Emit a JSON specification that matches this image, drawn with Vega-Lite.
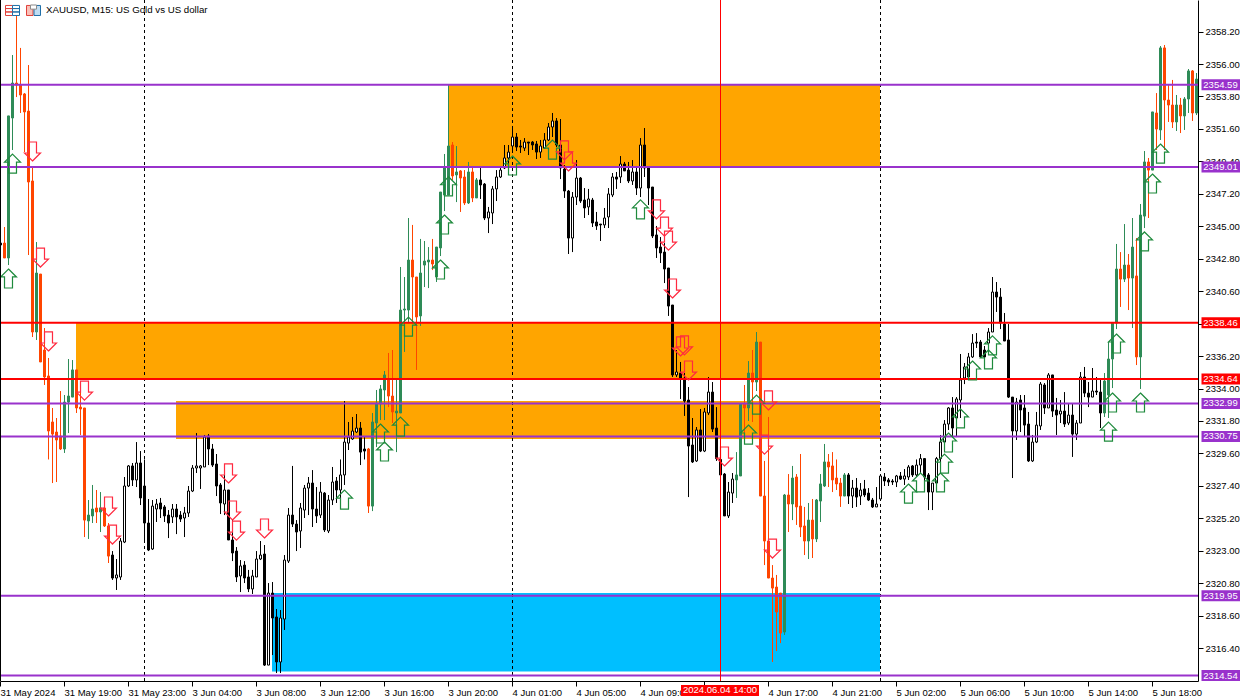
{"$schema":"https://vega.github.io/schema/vega-lite/v6.json","width":1198,"height":681,"autosize":"none","padding":{"left":0,"top":0,"right":54,"bottom":19},"background":"white","config":{"view":{"stroke":null},"scale":{"continuousPadding":0},"axis":{"labelFont":"Liberation Sans","labelFontSize":9.5,"labelColor":"black","tickColor":"black","domainColor":"black","grid":false,"title":null,"labelOverlap":false}},
"resolve":{"scale":{"fill":"independent","stroke":"independent"}},
"datasets":{
"candles":[
{"b":0,"s":"d","o":2343.86,"h":2343.9,"l":2343.7,"c":2343.73},
{"b":1,"s":"r","o":2343.86,"h":2344.95,"l":2342.85,"c":2342.85},
{"b":2,"s":"g","o":2342.85,"h":2352.48,"l":2342.37,"c":2352.48},
{"b":3,"s":"g","o":2352.34,"h":2356.61,"l":2350.17,"c":2354.71},
{"b":4,"s":"r","o":2354.71,"h":2359.32,"l":2353.76,"c":2354.58},
{"b":5,"s":"r","o":2354.58,"h":2357.09,"l":2352.68,"c":2353.9},
{"b":6,"s":"r","o":2353.97,"h":2354.03,"l":2350.03,"c":2352.75},
{"b":7,"s":"r","o":2352.81,"h":2355.93,"l":2343.05,"c":2348},
{"b":8,"s":"r","o":2348.07,"h":2348.95,"l":2337.49,"c":2337.83},
{"b":9,"s":"g","o":2337.83,"h":2343.93,"l":2337.29,"c":2341.83},
{"b":10,"s":"r","o":2341.76,"h":2341.76,"l":2335.8,"c":2335.8},
{"b":11,"s":"r","o":2336.61,"h":2338.1,"l":2334.24,"c":2334.78},
{"b":12,"s":"r","o":2334.85,"h":2336.07,"l":2329.19,"c":2331.12},
{"b":13,"s":"r","o":2331.73,"h":2332.68,"l":2327.59,"c":2330.91},
{"b":14,"s":"r","o":2331.05,"h":2332,"l":2327.66,"c":2330.51},
{"b":15,"s":"r","o":2330.78,"h":2333.83,"l":2329.83,"c":2329.9},
{"b":16,"s":"g","o":2329.9,"h":2333.56,"l":2329.63,"c":2333.08},
{"b":17,"s":"g","o":2333.08,"h":2336,"l":2330.98,"c":2333.49},
{"b":18,"s":"g","o":2333.42,"h":2335.93,"l":2333.42,"c":2335.26},
{"b":19,"s":"r","o":2335.26,"h":2335.26,"l":2332.34,"c":2332.68},
{"b":20,"s":"r","o":2332.74,"h":2333.9,"l":2330.85,"c":2332.61},
{"b":21,"s":"r","o":2332.68,"h":2332.68,"l":2323.93,"c":2325.08},
{"b":22,"s":"g","o":2325.02,"h":2326.44,"l":2323.8,"c":2325.42},
{"b":23,"s":"g","o":2325.36,"h":2327.46,"l":2324.88,"c":2325.83},
{"b":24,"s":"r","o":2325.9,"h":2327.12,"l":2324.88,"c":2325.63},
{"b":25,"s":"g","o":2325.63,"h":2326.98,"l":2324.27,"c":2325.9},
{"b":26,"s":"r","o":2325.9,"h":2326.64,"l":2324.61,"c":2324.68},
{"b":27,"s":"r","o":2324.68,"h":2324.88,"l":2322.17,"c":2322.64},
{"b":28,"s":"d","o":2322.71,"h":2322.98,"l":2321.02,"c":2321.15},
{"b":29,"s":"u","o":2321.15,"h":2322.44,"l":2320.34,"c":2321.36},
{"b":30,"s":"u","o":2321.22,"h":2323.86,"l":2321.02,"c":2323.66},
{"b":31,"s":"u","o":2323.59,"h":2328,"l":2323.52,"c":2327.39},
{"b":32,"s":"u","o":2327.39,"h":2328.81,"l":2327.32,"c":2328.75},
{"b":33,"s":"d","o":2328.75,"h":2328.95,"l":2327.39,"c":2327.8},
{"b":34,"s":"u","o":2327.8,"h":2330.37,"l":2327.32,"c":2328.95},
{"b":35,"s":"d","o":2328.95,"h":2329.76,"l":2326.1,"c":2326.58},
{"b":36,"s":"d","o":2327.39,"h":2329.19,"l":2323.59,"c":2324.88},
{"b":37,"s":"d","o":2324.88,"h":2326.51,"l":2322.98,"c":2323.05},
{"b":38,"s":"u","o":2323.12,"h":2326.44,"l":2323.05,"c":2326.03},
{"b":39,"s":"u","o":2325.83,"h":2326.51,"l":2324.95,"c":2326.17},
{"b":40,"s":"d","o":2326.24,"h":2326.58,"l":2325.22,"c":2325.83},
{"b":41,"s":"d","o":2325.97,"h":2326.1,"l":2324.95,"c":2325.36},
{"b":42,"s":"d","o":2325.42,"h":2325.76,"l":2323.86,"c":2324.88},
{"b":43,"s":"u","o":2325.29,"h":2326.17,"l":2324.88,"c":2325.83},
{"b":44,"s":"d","o":2325.83,"h":2326.17,"l":2324.13,"c":2325.29},
{"b":45,"s":"d","o":2325.42,"h":2325.69,"l":2324.95,"c":2325.15},
{"b":46,"s":"u","o":2325.22,"h":2325.97,"l":2323.93,"c":2325.56},
{"b":47,"s":"u","o":2325.56,"h":2327.39,"l":2325.29,"c":2327.05},
{"b":48,"s":"u","o":2327.05,"h":2328.81,"l":2326.98,"c":2328.61},
{"b":49,"s":"u","o":2328.61,"h":2330.98,"l":2328.27,"c":2328.75},
{"b":50,"s":"u","o":2328.61,"h":2328.81,"l":2327.19,"c":2328.75},
{"b":51,"s":"u","o":2328.68,"h":2330.85,"l":2328.68,"c":2330.71},
{"b":52,"s":"d","o":2330.78,"h":2330.91,"l":2328.81,"c":2329.9},
{"b":53,"s":"d","o":2329.9,"h":2330.24,"l":2328.68,"c":2328.81},
{"b":54,"s":"d","o":2328.88,"h":2329.56,"l":2326.71,"c":2327.39},
{"b":55,"s":"d","o":2327.46,"h":2327.59,"l":2325.49,"c":2326.24},
{"b":56,"s":"u","o":2326.17,"h":2328.27,"l":2325.42,"c":2327.12},
{"b":57,"s":"d","o":2327.12,"h":2327.12,"l":2323.73,"c":2323.73},
{"b":58,"s":"d","o":2323.73,"h":2325.08,"l":2322.3,"c":2322.85},
{"b":59,"s":"d","o":2322.98,"h":2323.25,"l":2320.88,"c":2321.22},
{"b":60,"s":"u","o":2321.29,"h":2322.37,"l":2320.2,"c":2321.97},
{"b":61,"s":"d","o":2322.03,"h":2322.3,"l":2320.81,"c":2321.15},
{"b":62,"s":"d","o":2321.22,"h":2321.7,"l":2320.2,"c":2320.41},
{"b":63,"s":"u","o":2320.41,"h":2321.7,"l":2320.07,"c":2321.29},
{"b":64,"s":"u","o":2321.22,"h":2322.98,"l":2321.22,"c":2322.44},
{"b":65,"s":"u","o":2322.44,"h":2323.66,"l":2322.37,"c":2322.71},
{"b":66,"s":"d","o":2322.78,"h":2323.39,"l":2315.19,"c":2315.25},
{"b":67,"s":"u","o":2315.25,"h":2320.81,"l":2315.25,"c":2320.13},
{"b":68,"s":"d","o":2320.13,"h":2320.88,"l":2315.93,"c":2318.44},
{"b":69,"s":"d","o":2318.51,"h":2319.05,"l":2314.71,"c":2315.46},
{"b":70,"s":"u","o":2315.46,"h":2318.98,"l":2314.71,"c":2318.44},
{"b":71,"s":"u","o":2318.37,"h":2322.71,"l":2317.63,"c":2322.37},
{"b":72,"s":"u","o":2322.3,"h":2325.9,"l":2322.17,"c":2325.42},
{"b":73,"s":"d","o":2325.42,"h":2328.75,"l":2324.61,"c":2324.81},
{"b":74,"s":"d","o":2324.81,"h":2325.08,"l":2322.98,"c":2324.27},
{"b":75,"s":"u","o":2324.34,"h":2326.24,"l":2323.19,"c":2325.9},
{"b":76,"s":"u","o":2325.76,"h":2327.46,"l":2325.22,"c":2327.25},
{"b":77,"s":"u","o":2327.25,"h":2328,"l":2325.42,"c":2327.59},
{"b":78,"s":"d","o":2327.59,"h":2328.47,"l":2324.61,"c":2325.83},
{"b":79,"s":"d","o":2325.83,"h":2327.32,"l":2324.88,"c":2325.36},
{"b":80,"s":"u","o":2325.42,"h":2327.66,"l":2325.22,"c":2326.98},
{"b":81,"s":"d","o":2326.91,"h":2326.98,"l":2324.27,"c":2324.41},
{"b":82,"s":"u","o":2324.34,"h":2326.78,"l":2324.2,"c":2326.44},
{"b":83,"s":"u","o":2326.44,"h":2328.68,"l":2326.1,"c":2327.66},
{"b":84,"s":"d","o":2327.73,"h":2328,"l":2326.24,"c":2327.12},
{"b":85,"s":"u","o":2327.12,"h":2329.19,"l":2326.1,"c":2328.14},
{"b":86,"s":"u","o":2328.14,"h":2333.15,"l":2327.46,"c":2330.37},
{"b":87,"s":"u","o":2330.3,"h":2331.73,"l":2329.83,"c":2330.71},
{"b":88,"s":"u","o":2330.58,"h":2332.07,"l":2330.51,"c":2331.12},
{"b":89,"s":"u","o":2331.05,"h":2332.27,"l":2330.98,"c":2331.32},
{"b":90,"s":"d","o":2331.32,"h":2331.73,"l":2328.81,"c":2329.69},
{"b":91,"s":"d","o":2329.9,"h":2330.71,"l":2329.19,"c":2329.76},
{"b":92,"s":"r","o":2329.9,"h":2329.97,"l":2325.56,"c":2326.03},
{"b":93,"s":"g","o":2326.03,"h":2332.34,"l":2325.69,"c":2331.73},
{"b":94,"s":"g","o":2331.66,"h":2333.9,"l":2330.03,"c":2333.01},
{"b":95,"s":"g","o":2332.95,"h":2334.24,"l":2331.86,"c":2333.97},
{"b":96,"s":"g","o":2333.9,"h":2335.19,"l":2331.86,"c":2334.92},
{"b":97,"s":"r","o":2334.58,"h":2336.41,"l":2332.74,"c":2333.49},
{"b":98,"s":"r","o":2333.49,"h":2336.61,"l":2331.66,"c":2332.41},
{"b":99,"s":"g","o":2332.34,"h":2334.71,"l":2329.69,"c":2332.47},
{"b":100,"s":"g","o":2332.34,"h":2342.24,"l":2332.34,"c":2339.32},
{"b":101,"s":"g","o":2339.32,"h":2341.56,"l":2336.48,"c":2339.39},
{"b":102,"s":"g","o":2339.32,"h":2345.56,"l":2338.44,"c":2342.71},
{"b":103,"s":"r","o":2342.71,"h":2345.09,"l":2338.44,"c":2341.56},
{"b":104,"s":"r","o":2341.56,"h":2341.56,"l":2335.26,"c":2338.85},
{"b":105,"s":"g","o":2338.92,"h":2344.14,"l":2338.24,"c":2341.83},
{"b":106,"s":"g","o":2342.37,"h":2344,"l":2340.88,"c":2342.64},
{"b":107,"s":"g","o":2342.58,"h":2343.59,"l":2340.81,"c":2342.71},
{"b":108,"s":"r","o":2342.71,"h":2344.14,"l":2342.03,"c":2342.44},
{"b":109,"s":"g","o":2341.56,"h":2343.59,"l":2341.22,"c":2343.59},
{"b":110,"s":"g","o":2343.53,"h":2347.32,"l":2342.98,"c":2347.32},
{"b":111,"s":"g","o":2347.12,"h":2349.9,"l":2346.03,"c":2349.02},
{"b":112,"s":"g","o":2347.12,"h":2354.58,"l":2348.14,"c":2350.44},
{"b":113,"s":"r","o":2350.51,"h":2350.71,"l":2348.14,"c":2348.41},
{"b":114,"s":"g","o":2348.48,"h":2350.44,"l":2346.64,"c":2348.68},
{"b":115,"s":"r","o":2348.75,"h":2348.81,"l":2345.97,"c":2348.27},
{"b":116,"s":"r","o":2348.34,"h":2348.81,"l":2346.44,"c":2346.58},
{"b":117,"s":"g","o":2346.58,"h":2349.36,"l":2346.51,"c":2348.68},
{"b":118,"s":"r","o":2348.68,"h":2348.95,"l":2346.64,"c":2346.92},
{"b":119,"s":"g","o":2346.92,"h":2348.27,"l":2346.92,"c":2348.14},
{"b":120,"s":"d","o":2348.14,"h":2348.95,"l":2346.85,"c":2347.8},
{"b":121,"s":"d","o":2347.86,"h":2347.93,"l":2345.42,"c":2345.56},
{"b":122,"s":"u","o":2345.56,"h":2346.31,"l":2344.54,"c":2345.97},
{"b":123,"s":"u","o":2345.9,"h":2347.73,"l":2345.15,"c":2347.53},
{"b":124,"s":"u","o":2347.53,"h":2348.81,"l":2346.71,"c":2348.34},
{"b":125,"s":"u","o":2348.34,"h":2348.95,"l":2348.27,"c":2348.81},
{"b":126,"s":"u","o":2348.95,"h":2350.51,"l":2348.88,"c":2349.63},
{"b":127,"s":"u","o":2349.63,"h":2350.51,"l":2349.02,"c":2350.03},
{"b":128,"s":"u","o":2350.44,"h":2351.8,"l":2350.17,"c":2351.05},
{"b":129,"s":"d","o":2351.05,"h":2351.32,"l":2350.1,"c":2350.37},
{"b":130,"s":"d","o":2350.44,"h":2350.85,"l":2349.97,"c":2350.37},
{"b":131,"s":"u","o":2350.3,"h":2350.98,"l":2350.1,"c":2350.71},
{"b":132,"s":"d","o":2350.71,"h":2350.71,"l":2349.83,"c":2350.64},
{"b":133,"s":"d","o":2350.71,"h":2350.78,"l":2350.17,"c":2350.51},
{"b":134,"s":"d","o":2350.58,"h":2350.78,"l":2349.56,"c":2350.03},
{"b":135,"s":"u","o":2350.03,"h":2350.85,"l":2349.63,"c":2350.44},
{"b":136,"s":"u","o":2350.3,"h":2351.32,"l":2350.3,"c":2350.85},
{"b":137,"s":"u","o":2350.85,"h":2352,"l":2350.78,"c":2351.73},
{"b":138,"s":"u","o":2351.73,"h":2352.68,"l":2351.05,"c":2352.14},
{"b":139,"s":"d","o":2352.14,"h":2352.34,"l":2350.37,"c":2350.51},
{"b":140,"s":"d","o":2350.51,"h":2352.27,"l":2348.2,"c":2348.95},
{"b":141,"s":"d","o":2348.88,"h":2349.15,"l":2346.92,"c":2347.39},
{"b":142,"s":"d","o":2347.39,"h":2347.46,"l":2343.12,"c":2344.2},
{"b":143,"s":"u","o":2344.2,"h":2347.32,"l":2343.25,"c":2346.98},
{"b":144,"s":"u","o":2346.98,"h":2349.49,"l":2346.44,"c":2348.27},
{"b":145,"s":"d","o":2348.27,"h":2348.34,"l":2346.58,"c":2346.71},
{"b":146,"s":"d","o":2346.78,"h":2347.59,"l":2345.56,"c":2346.24},
{"b":147,"s":"u","o":2346.31,"h":2347.53,"l":2345.76,"c":2346.85},
{"b":148,"s":"d","o":2346.78,"h":2346.92,"l":2344.95,"c":2345.22},
{"b":149,"s":"d","o":2345.29,"h":2345.97,"l":2344.75,"c":2345.02},
{"b":150,"s":"d","o":2345.15,"h":2345.15,"l":2344,"c":2345.09},
{"b":151,"s":"u","o":2345.09,"h":2346.24,"l":2344.88,"c":2345.56},
{"b":152,"s":"u","o":2345.63,"h":2347.59,"l":2344.88,"c":2347.19},
{"b":153,"s":"u","o":2347.12,"h":2348.61,"l":2346.98,"c":2348.34},
{"b":154,"s":"d","o":2348.34,"h":2348.68,"l":2347.53,"c":2348.2},
{"b":155,"s":"u","o":2348.34,"h":2349.76,"l":2347.93,"c":2349.22},
{"b":156,"s":"d","o":2349.22,"h":2349.36,"l":2348.75,"c":2348.75},
{"b":157,"s":"d","o":2348.81,"h":2349.36,"l":2347.93,"c":2348.07},
{"b":158,"s":"u","o":2348.07,"h":2349.49,"l":2347.8,"c":2348.68},
{"b":159,"s":"d","o":2348.68,"h":2349.02,"l":2347.12,"c":2347.59},
{"b":160,"s":"u","o":2347.59,"h":2350.98,"l":2346.98,"c":2350.51},
{"b":161,"s":"d","o":2350.51,"h":2351.66,"l":2348.34,"c":2348.95},
{"b":162,"s":"d","o":2348.95,"h":2348.95,"l":2346.44,"c":2347.59},
{"b":163,"s":"d","o":2347.66,"h":2347.66,"l":2344.2,"c":2344.34},
{"b":164,"s":"d","o":2344.41,"h":2345.02,"l":2342.85,"c":2343.53},
{"b":165,"s":"d","o":2343.59,"h":2344.27,"l":2342.51,"c":2343.19},
{"b":166,"s":"d","o":2343.25,"h":2343.86,"l":2341.15,"c":2342.1},
{"b":167,"s":"d","o":2342.17,"h":2342.17,"l":2338.92,"c":2339.59},
{"b":168,"s":"d","o":2339.66,"h":2339.66,"l":2334.78,"c":2334.92},
{"b":169,"s":"u","o":2334.92,"h":2336.61,"l":2334.78,"c":2335.12},
{"b":170,"s":"d","o":2335.05,"h":2335.8,"l":2333.29,"c":2334.71},
{"b":171,"s":"d","o":2334.71,"h":2335.05,"l":2332.14,"c":2333.15},
{"b":172,"s":"d","o":2333.22,"h":2334.1,"l":2326.64,"c":2330.1},
{"b":173,"s":"d","o":2330.17,"h":2332,"l":2328.95,"c":2329.02},
{"b":174,"s":"u","o":2329.09,"h":2331.39,"l":2329.02,"c":2331.19},
{"b":175,"s":"d","o":2331.19,"h":2332.61,"l":2329.69,"c":2329.76},
{"b":176,"s":"u","o":2329.76,"h":2332.68,"l":2329.69,"c":2332.41},
{"b":177,"s":"u","o":2332.34,"h":2334.78,"l":2332.2,"c":2333.76},
{"b":178,"s":"d","o":2333.76,"h":2334.44,"l":2331.05,"c":2331.25},
{"b":179,"s":"d","o":2331.32,"h":2332.74,"l":2329.09,"c":2329.25},
{"b":180,"s":"d","o":2329.19,"h":2329.49,"l":2328.14,"c":2328.14},
{"b":181,"s":"d","o":2328.2,"h":2328.27,"l":2325.36,"c":2325.36},
{"b":182,"s":"u","o":2325.36,"h":2327.66,"l":2325.22,"c":2326.98},
{"b":183,"s":"u","o":2326.91,"h":2328.27,"l":2326.24,"c":2327.86},
{"b":184,"s":"g","o":2327.8,"h":2329.69,"l":2326.58,"c":2328.14},
{"b":185,"s":"g","o":2328.07,"h":2332.95,"l":2328.07,"c":2332.95},
{"b":186,"s":"r","o":2332.95,"h":2334.24,"l":2330.51,"c":2332.68},
{"b":187,"s":"g","o":2332.68,"h":2335.86,"l":2331.8,"c":2335.05},
{"b":188,"s":"r","o":2335.05,"h":2336.61,"l":2331.73,"c":2334.44},
{"b":189,"s":"g","o":2334.44,"h":2337.83,"l":2333.83,"c":2337.15},
{"b":190,"s":"r","o":2337.15,"h":2337.15,"l":2326.71,"c":2326.71},
{"b":191,"s":"r","o":2326.71,"h":2329.09,"l":2322.03,"c":2323.66},
{"b":192,"s":"r","o":2323.66,"h":2332.07,"l":2321.15,"c":2321.15},
{"b":193,"s":"r","o":2321.15,"h":2322.03,"l":2315.46,"c":2320.47},
{"b":194,"s":"r","o":2320.54,"h":2321.36,"l":2316.2,"c":2318.85},
{"b":195,"s":"r","o":2320.13,"h":2320.13,"l":2316.74,"c":2317.42},
{"b":196,"s":"g","o":2317.49,"h":2326.85,"l":2317.29,"c":2326.78},
{"b":197,"s":"r","o":2326.78,"h":2328.2,"l":2324.27,"c":2326.17},
{"b":198,"s":"g","o":2326.17,"h":2328.75,"l":2325.08,"c":2327.93},
{"b":199,"s":"r","o":2328,"h":2328.2,"l":2324.75,"c":2325.97},
{"b":200,"s":"r","o":2326.03,"h":2329.56,"l":2323.93,"c":2324.61},
{"b":201,"s":"r","o":2324.68,"h":2325.97,"l":2322.71,"c":2323.66},
{"b":202,"s":"g","o":2323.66,"h":2326.24,"l":2322.44,"c":2325.08},
{"b":203,"s":"r","o":2325.08,"h":2326.51,"l":2322.51,"c":2323.8},
{"b":204,"s":"g","o":2323.8,"h":2326.51,"l":2323.59,"c":2326.44},
{"b":205,"s":"g","o":2326.37,"h":2328.2,"l":2324.95,"c":2327.53},
{"b":206,"s":"g","o":2327.39,"h":2330.24,"l":2327.32,"c":2329.02},
{"b":207,"s":"r","o":2329.02,"h":2329.56,"l":2327.32,"c":2328.68},
{"b":208,"s":"r","o":2328.75,"h":2329.69,"l":2326.98,"c":2327.8},
{"b":209,"s":"r","o":2327.93,"h":2329.19,"l":2327.12,"c":2327.53},
{"b":210,"s":"r","o":2327.59,"h":2327.93,"l":2325.97,"c":2326.71},
{"b":211,"s":"g","o":2326.71,"h":2328.27,"l":2326.71,"c":2328.14},
{"b":212,"s":"d","o":2328.14,"h":2328.27,"l":2326.17,"c":2326.71},
{"b":213,"s":"u","o":2326.71,"h":2327.8,"l":2325.9,"c":2327.25},
{"b":214,"s":"d","o":2327.25,"h":2327.93,"l":2325.97,"c":2326.64},
{"b":215,"s":"u","o":2326.71,"h":2327.59,"l":2326.1,"c":2327.12},
{"b":216,"s":"d","o":2327.19,"h":2327.8,"l":2326.64,"c":2326.78},
{"b":217,"s":"d","o":2326.91,"h":2327.25,"l":2326.37,"c":2326.44},
{"b":218,"s":"d","o":2326.44,"h":2326.58,"l":2325.9,"c":2325.97},
{"b":219,"s":"u","o":2325.97,"h":2327.32,"l":2325.97,"c":2326.17},
{"b":220,"s":"u","o":2326.51,"h":2328.14,"l":2326.44,"c":2328.07},
{"b":221,"s":"d","o":2328,"h":2328.27,"l":2327.39,"c":2327.73},
{"b":222,"s":"d","o":2327.8,"h":2327.93,"l":2327.39,"c":2327.66},
{"b":223,"s":"d","o":2327.73,"h":2327.86,"l":2327.46,"c":2327.66},
{"b":224,"s":"u","o":2327.66,"h":2328.14,"l":2327.32,"c":2328.07},
{"b":225,"s":"d","o":2328.07,"h":2328.34,"l":2327.8,"c":2327.86},
{"b":226,"s":"u","o":2327.86,"h":2328.54,"l":2327.46,"c":2328.07},
{"b":227,"s":"u","o":2328,"h":2328.81,"l":2327.8,"c":2328.68},
{"b":228,"s":"d","o":2328.75,"h":2328.81,"l":2328,"c":2328.14},
{"b":229,"s":"u","o":2328.14,"h":2329.19,"l":2328,"c":2328.81},
{"b":230,"s":"u","o":2328.81,"h":2329.56,"l":2328.27,"c":2329.25},
{"b":231,"s":"d","o":2329.25,"h":2329.25,"l":2327.59,"c":2328},
{"b":232,"s":"d","o":2328.14,"h":2328.27,"l":2325.76,"c":2326.98},
{"b":233,"s":"u","o":2326.98,"h":2327.59,"l":2325.76,"c":2327.59},
{"b":234,"s":"u","o":2327.59,"h":2329.36,"l":2326.98,"c":2329.25},
{"b":235,"s":"u","o":2329.25,"h":2330.85,"l":2328.95,"c":2330.37},
{"b":236,"s":"u","o":2330.37,"h":2331.86,"l":2330.3,"c":2331.59},
{"b":237,"s":"u","o":2331.59,"h":2332.74,"l":2331.19,"c":2332.68},
{"b":238,"s":"d","o":2332.68,"h":2333.42,"l":2330.71,"c":2331.32},
{"b":239,"s":"u","o":2332,"h":2333.42,"l":2330.71,"c":2333.29},
{"b":240,"s":"u","o":2333.22,"h":2336.34,"l":2332,"c":2334.58},
{"b":241,"s":"u","o":2334.71,"h":2335.73,"l":2334.3,"c":2335.46},
{"b":242,"s":"u","o":2334.78,"h":2336.41,"l":2334.58,"c":2336.14},
{"b":243,"s":"u","o":2336.14,"h":2337.69,"l":2336.07,"c":2337.08},
{"b":244,"s":"d","o":2337.15,"h":2337.76,"l":2336.75,"c":2337.08},
{"b":245,"s":"d","o":2337.15,"h":2337.29,"l":2336.07,"c":2336.14},
{"b":246,"s":"d","o":2336.61,"h":2336.88,"l":2335.66,"c":2336.14},
{"b":247,"s":"u","o":2337.08,"h":2338.1,"l":2336.27,"c":2337.83},
{"b":248,"s":"u","o":2337.83,"h":2341.56,"l":2337.83,"c":2340.54},
{"b":249,"s":"d","o":2340.54,"h":2341.22,"l":2339.19,"c":2340.2},
{"b":250,"s":"d","o":2340.2,"h":2340.81,"l":2338.03,"c":2338.44},
{"b":251,"s":"d","o":2338.37,"h":2339.12,"l":2337.22,"c":2337.22},
{"b":252,"s":"d","o":2337.29,"h":2338.37,"l":2333.36,"c":2333.42},
{"b":253,"s":"d","o":2333.42,"h":2333.42,"l":2327.93,"c":2331.12},
{"b":254,"s":"u","o":2331.12,"h":2333.36,"l":2330.51,"c":2333.08},
{"b":255,"s":"d","o":2333.22,"h":2333.56,"l":2331.05,"c":2332.54},
{"b":256,"s":"d","o":2332.68,"h":2333.56,"l":2330.71,"c":2331.52},
{"b":257,"s":"d","o":2331.59,"h":2332.41,"l":2329.02,"c":2329.09},
{"b":258,"s":"u","o":2329.09,"h":2330.85,"l":2329.02,"c":2330.37},
{"b":259,"s":"u","o":2330.37,"h":2332.41,"l":2330.3,"c":2331.52},
{"b":260,"s":"u","o":2331.46,"h":2334.44,"l":2331.19,"c":2334.3},
{"b":261,"s":"d","o":2334.24,"h":2334.37,"l":2332.27,"c":2332.68},
{"b":262,"s":"u","o":2332.68,"h":2335.05,"l":2332.68,"c":2334.92},
{"b":263,"s":"d","o":2334.92,"h":2334.92,"l":2332.07,"c":2332.47},
{"b":264,"s":"d","o":2332.54,"h":2333.36,"l":2330.85,"c":2332.2},
{"b":265,"s":"u","o":2332.27,"h":2333.22,"l":2331.66,"c":2332.47},
{"b":266,"s":"d","o":2332.47,"h":2333.76,"l":2331.39,"c":2331.59},
{"b":267,"s":"u","o":2331.66,"h":2333.01,"l":2331.52,"c":2332.2},
{"b":268,"s":"d","o":2332.2,"h":2332.95,"l":2329.36,"c":2330.91},
{"b":269,"s":"u","o":2330.91,"h":2331.86,"l":2330.51,"c":2331.66},
{"b":270,"s":"u","o":2331.66,"h":2335.12,"l":2331.66,"c":2334.78},
{"b":271,"s":"d","o":2334.78,"h":2335.46,"l":2333.42,"c":2333.69},
{"b":272,"s":"d","o":2333.69,"h":2334.44,"l":2332.74,"c":2333.42},
{"b":273,"s":"u","o":2333.42,"h":2335.39,"l":2333.42,"c":2333.83},
{"b":274,"s":"d","o":2333.83,"h":2334.78,"l":2333.56,"c":2333.76},
{"b":275,"s":"d","o":2333.76,"h":2334.58,"l":2331.32,"c":2332.34},
{"b":276,"s":"g","o":2332.34,"h":2335.05,"l":2332.07,"c":2334.51},
{"b":277,"s":"g","o":2333.56,"h":2337.15,"l":2332,"c":2336},
{"b":278,"s":"g","o":2336,"h":2338.44,"l":2334.03,"c":2338.44},
{"b":279,"s":"g","o":2338.44,"h":2343.8,"l":2338.03,"c":2342.1},
{"b":280,"s":"r","o":2342.1,"h":2343.25,"l":2339.53,"c":2341.42},
{"b":281,"s":"g","o":2341.42,"h":2345.15,"l":2341.22,"c":2342.37},
{"b":282,"s":"r","o":2342.37,"h":2343.12,"l":2339.32,"c":2341.49},
{"b":283,"s":"g","o":2341.49,"h":2345.56,"l":2338.1,"c":2343.59},
{"b":284,"s":"r","o":2341.63,"h":2344.2,"l":2335.59,"c":2336.14},
{"b":285,"s":"g","o":2336.14,"h":2346.51,"l":2333.97,"c":2345.76},
{"b":286,"s":"g","o":2345.69,"h":2350.1,"l":2344.88,"c":2349.36},
{"b":287,"s":"r","o":2349.36,"h":2349.63,"l":2345.56,"c":2348.81},
{"b":288,"s":"g","o":2348.81,"h":2352.75,"l":2348.81,"c":2352.75},
{"b":289,"s":"r","o":2352.68,"h":2354.03,"l":2350.17,"c":2351.59},
{"b":290,"s":"g","o":2351.53,"h":2357.22,"l":2350.85,"c":2357.09},
{"b":291,"s":"r","o":2357.09,"h":2357.29,"l":2350.17,"c":2353.56},
{"b":292,"s":"r","o":2353.56,"h":2354.58,"l":2352.07,"c":2353.22},
{"b":293,"s":"r","o":2353.22,"h":2354.92,"l":2351.66,"c":2352.07},
{"b":294,"s":"g","o":2352.07,"h":2353.9,"l":2351.46,"c":2353.22},
{"b":295,"s":"r","o":2353.22,"h":2353.7,"l":2351.32,"c":2352.48},
{"b":296,"s":"g","o":2352.48,"h":2353.76,"l":2351.53,"c":2353.63},
{"b":297,"s":"g","o":2353.63,"h":2355.66,"l":2352.68,"c":2355.53},
{"b":298,"s":"r","o":2355.53,"h":2355.59,"l":2352.14,"c":2352.68},
{"b":299,"s":"g","o":2352.68,"h":2355.39,"l":2352.54,"c":2354.98}
],
"zones":[
{"k1":111.875,"k2":219.875,"p1":2354.58,"p2":2349.09,"t":"sell"},
{"k1":18.875,"k2":219.875,"p1":2338.51,"p2":2334.64,"t":"sell"},
{"k1":43.875,"k2":219.875,"p1":2333.15,"p2":2330.58,"t":"sell"},
{"k1":67.875,"k2":219.875,"p1":2320.13,"p2":2314.81,"t":"buy"}
],
"levels":[
{"p":2354.59,"t":"a","x":"2354.59"},
{"p":2349.01,"t":"a","x":"2349.01"},
{"p":2338.46,"t":"b","x":"2338.46"},
{"p":2334.64,"t":"b","x":"2334.64"},
{"p":2332.99,"t":"a","x":"2332.99"},
{"p":2330.75,"t":"a","x":"2330.75"},
{"p":2319.95,"t":"a","x":"2319.95"},
{"p":2314.54,"t":"a","x":"2314.54"}
],
"up":[
{"b":2,"p":2341.46},{"b":3,"p":2349.25},{"b":86,"p":2326.47},{"b":95,"p":2330.95},{"b":96,"p":2329.73},{"b":100,"p":2331.42},{"b":102,"p":2338.2},{"b":110,"p":2342.07},{"b":111,"p":2345.12},{"b":112,"p":2347.71},{"b":128,"p":2349.12},{"b":138,"p":2350.2},{"b":160,"p":2346.14},{"b":187,"p":2330.88},{"b":189,"p":2332.91},{"b":227,"p":2326.88},{"b":230,"p":2327.63},{"b":235,"p":2327.63},{"b":236,"p":2328.91},{"b":237,"p":2330.34},{"b":240,"p":2331.97},{"b":243,"p":2335.22},{"b":247,"p":2335.97},{"b":248,"p":2336.92},{"b":277,"p":2331.08},{"b":278,"p":2333.05},{"b":279,"p":2337.05},{"b":285,"p":2333.05},{"b":286,"p":2343.97},{"b":288,"p":2347.9},{"b":290,"p":2349.93}
],
"down":[
{"b":8,"p":2350.07},{"b":10,"p":2342.88},{"b":12,"p":2337.19},{"b":21,"p":2333.86},{"b":27,"p":2326},{"b":28,"p":2324.1},{"b":57,"p":2328.24},{"b":58,"p":2325.73},{"b":59,"p":2324.37},{"b":66,"p":2324.51},{"b":141,"p":2350.14},{"b":142,"p":2349.39},{"b":164,"p":2346.14},{"b":166,"p":2344.98},{"b":167,"p":2344.03},{"b":168,"p":2340.78},{"b":170,"p":2336.85},{"b":171,"p":2336.92},{"b":172,"p":2335.22},{"b":181,"p":2329.39},{"b":191,"p":2330.2},{"b":192,"p":2333.19},{"b":193,"p":2323.15}
],
"seps":[{"b":36},{"b":128},{"b":220}],
"icons":[
{"k1":1.25,"k2":3,"p1":2359.97,"p2":2359.29,"t":"rl"},
{"k1":3,"k2":4.75,"p1":2359.97,"p2":2359.29,"t":"bl"},
{"k1":1.25,"k2":3,"p1":2359.76,"p2":2359.76,"t":"rl"},
{"k1":1.25,"k2":3,"p1":2359.53,"p2":2359.53,"t":"rl"},
{"k1":3,"k2":4.75,"p1":2359.76,"p2":2359.76,"t":"bl"},
{"k1":3,"k2":4.75,"p1":2359.53,"p2":2359.53,"t":"bl"},
{"k1":6.5,"k2":8.125,"p1":2359.97,"p2":2359.29,"t":"rf"},
{"k1":8.375,"k2":10,"p1":2359.97,"p2":2359.29,"t":"bf"},
{"k1":7.5,"k2":9,"p1":2360.0,"p2":2359.72,"t":"gr"}
]
},
"layer":[
{"data":{"name":"zones"},"mark":{"type":"rect"},"encoding":{
"x":{"field":"k1","type":"quantitative","scale":{"domain":[-0.125,299.375],"nice":false,"zero":false,"padding":0},"axis":{"orient":"bottom","tickCount":40,"values":[-0.125,15.875,31.875,47.875,63.875,79.875,95.875,111.875,127.875,143.875,159.875,175.875,191.875,207.875,223.875,239.875,255.875,271.875,287.875],"labelExpr":"['31 May 2024','31 May 19:00','31 May 23:00','3 Jun 04:00','3 Jun 08:00','3 Jun 12:00','3 Jun 16:00','3 Jun 20:00','4 Jun 01:00','4 Jun 05:00','4 Jun 09:00','','4 Jun 17:00','4 Jun 21:00','5 Jun 02:00','5 Jun 06:00','5 Jun 10:00','5 Jun 14:00','5 Jun 18:00'][round(datum.value/16)]","labelAlign":"left","labelFlush":false,"labelOverlap":false,"labelBound":false,"tickSize":5,"labelPadding":1,"title":null}},
"x2":{"field":"k2"},
"y":{"field":"p1","type":"quantitative","scale":{"domain":[2314.17,2360.34],"nice":false,"zero":false,"padding":0},"axis":{"orient":"right","tickCount":40,"values":[2316.4,2318.6,2320.8,2323,2325.2,2327.4,2329.6,2331.8,2334,2336.2,2338.4,2340.6,2342.8,2345,2347.2,2349.4,2351.6,2353.8,2356,2358.2],"format":".2f","tickSize":5,"labelPadding":2,"labelOverlap":false,"labelBound":false,"labelFlush":false,"title":null}},
"y2":{"field":"p2"},
"fill":{"field":"t","type":"nominal","scale":{"domain":["sell","buy"],"range":["#FFA500","#00BFFF"]},"legend":null}}},
{"data":{"name":"seps"},"mark":{"type":"rule","color":"black","strokeDash":[3,3],"strokeWidth":1},"encoding":{"x":{"field":"b","type":"quantitative"}}},
{"data":{"name":"candles"},"mark":{"type":"rule","strokeWidth":1},"encoding":{"x":{"field":"b","type":"quantitative"},"y":{"field":"l","type":"quantitative"},"y2":{"field":"h"},"stroke":{"field":"s","type":"nominal","scale":{"domain":["u","d","g","r"],"range":["#000000","#000000","#2E8B57","#FF4500"]},"legend":null}}},
{"data":{"name":"candles"},"mark":{"type":"bar","orient":"vertical","size":2,"strokeWidth":1},"encoding":{"x":{"field":"b","type":"quantitative"},"y":{"field":"o","type":"quantitative"},"y2":{"field":"c"},"stroke":{"field":"s","type":"nominal","scale":{"domain":["u","d","g","r"],"range":["#000000","#000000","#2E8B57","#FF4500"]},"legend":null},"fill":{"field":"s","type":"nominal","scale":{"domain":["u","d","g","r"],"range":["#FFFFFF","#000000","#2E8B57","#FF4500"]},"legend":null}}},
{"data":{"name":"levels"},"mark":{"type":"rule","strokeWidth":2},"encoding":{"y":{"field":"p","type":"quantitative"},"stroke":{"field":"t","type":"nominal","scale":{"domain":["a","b"],"range":["#9932CC","#FF0000"]},"legend":null}}},
{"data":{"name":"up"},"mark":{"type":"point","filled":false,"shape":"M0,-1L.84,-.16L.42,-.16L.42,1L-.42,1L-.42,-.16L-.84,-.16Z","size":361,"stroke":"#1E8A3C","strokeWidth":1.2,"opacity":1},"encoding":{"x":{"field":"b","type":"quantitative"},"y":{"field":"p","type":"quantitative"}}},
{"data":{"name":"down"},"mark":{"type":"point","filled":false,"shape":"M0,1L.84,.16L.42,.16L.42,-1L-.42,-1L-.42,.16L-.84,.16Z","size":361,"stroke":"#FF2A40","strokeWidth":1.2,"opacity":1},"encoding":{"x":{"field":"b","type":"quantitative"},"y":{"field":"p","type":"quantitative"}}},
{"data":{"values":[{"b":180}]},"mark":{"type":"rule","stroke":"#FF0000","strokeWidth":1},"encoding":{"x":{"field":"b","type":"quantitative"}}},
{"data":{"values":[{"b":0}]},"mark":{"type":"rule","stroke":"#000000","strokeWidth":1},"encoding":{"x":{"field":"b","type":"quantitative"}}},
{"data":{"name":"levels"},"transform":[{"calculate":"300.25","as":"k1"},{"calculate":"309.875","as":"k2"}],"mark":{"type":"bar","orient":"horizontal","size":11,"clip":false},"encoding":{"x":{"field":"k1","type":"quantitative"},"x2":{"field":"k2"},"y":{"field":"p","type":"quantitative"},"fill":{"field":"t","type":"nominal","scale":{"domain":["a","b"],"range":["#9932CC","#FF0000"]},"legend":null}}},
{"data":{"name":"levels"},"transform":[{"calculate":"305","as":"k"}],"mark":{"type":"text","font":"Liberation Sans","fontSize":9.5,"color":"white","align":"center","baseline":"middle"},"encoding":{"x":{"field":"k","type":"quantitative"},"y":{"field":"p","type":"quantitative"},"text":{"field":"x"}}},
{"data":{"values":[{"k1":170.125,"k2":189.625,"p":2313.53}]},"mark":{"type":"bar","orient":"horizontal","size":11,"fill":"#FF0000","clip":false},"encoding":{"x":{"field":"k1","type":"quantitative"},"x2":{"field":"k2"},"y":{"field":"p","type":"quantitative"}}},
{"data":{"values":[{"k":179.875,"p":2313.53,"x":"2024.06.04 14:00"}]},"mark":{"type":"text","font":"Liberation Sans","fontSize":9.5,"color":"white","align":"center","baseline":"middle"},"encoding":{"x":{"field":"k","type":"quantitative"},"y":{"field":"p","type":"quantitative"},"text":{"field":"x"}}},
{"data":{"name":"icons"},"mark":{"type":"rect","strokeWidth":1},"encoding":{"x":{"field":"k1","type":"quantitative"},"x2":{"field":"k2"},"y":{"field":"p1","type":"quantitative"},"y2":{"field":"p2"},"stroke":{"field":"t","type":"nominal","scale":{"domain":["rl","bl","rf","bf","gr"],"range":["#E0403A","#1F6FA8","#E0403A","#1F6FA8","#8C8C8C"]},"legend":null},"fill":{"field":"t","type":"nominal","scale":{"domain":["rl","bl","rf","bf","gr"],"range":["#FFFFFF","#FFFFFF","#F9C0B8","#BFDDF3","#FFFFFF"]},"legend":null}}},
{"data":{"values":[{"k":11.375,"p":2359.63,"x":"XAUUSD, M15:  US Gold vs US dollar"}]},"mark":{"type":"text","font":"Liberation Sans","fontSize":9.7,"color":"black","align":"left","baseline":"middle"},"encoding":{"x":{"field":"k","type":"quantitative"},"y":{"field":"p","type":"quantitative"},"text":{"field":"x"}}}
]}
